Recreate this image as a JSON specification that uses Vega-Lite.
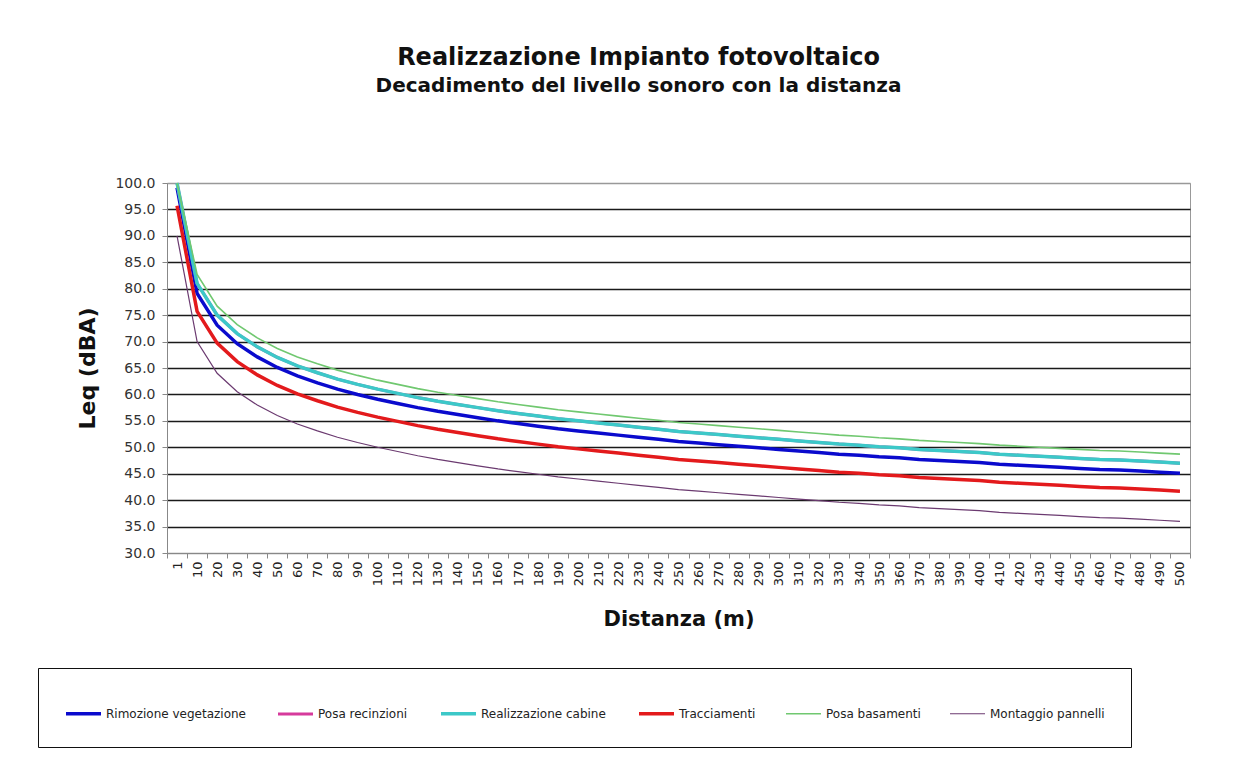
{
"$schema": "https://vega.github.io/schema/vega-lite/v6.json",
"width": 1023, "height": 370,
"autosize": {"type": "none"},
"padding": {"left": 167, "top": 183, "right": 66, "bottom": 227},
"background": "white",
"title": {"text": "Realizzazione Impianto fotovoltaico", "subtitle": "Decadimento del livello sonoro con la distanza", "anchor": "middle", "dx": -40, "offset": 80, "font": "DejaVu Sans", "fontSize": 24, "fontWeight": "bold", "color": "#111", "subtitleFont": "DejaVu Sans", "subtitleFontSize": 20, "subtitleFontWeight": "bold", "subtitleColor": "#111", "subtitlePadding": 6},
"config": {"view": {"stroke": "#999", "strokeWidth": 1}},
"datasets": {"rows": [
{"distanza":1,"fase":"Rimozione vegetazione","leq":99.1},{"distanza":10,"fase":"Rimozione vegetazione","leq":79.1},{"distanza":20,"fase":"Rimozione vegetazione","leq":73.1},{"distanza":30,"fase":"Rimozione vegetazione","leq":69.6},{"distanza":40,"fase":"Rimozione vegetazione","leq":67.1},{"distanza":50,"fase":"Rimozione vegetazione","leq":65.1},{"distanza":60,"fase":"Rimozione vegetazione","leq":63.5},{"distanza":70,"fase":"Rimozione vegetazione","leq":62.2},{"distanza":80,"fase":"Rimozione vegetazione","leq":61.0},{"distanza":90,"fase":"Rimozione vegetazione","leq":60.0},{"distanza":100,"fase":"Rimozione vegetazione","leq":59.1},{"distanza":110,"fase":"Rimozione vegetazione","leq":58.3},{"distanza":120,"fase":"Rimozione vegetazione","leq":57.5},{"distanza":130,"fase":"Rimozione vegetazione","leq":56.8},{"distanza":140,"fase":"Rimozione vegetazione","leq":56.2},{"distanza":150,"fase":"Rimozione vegetazione","leq":55.6},{"distanza":160,"fase":"Rimozione vegetazione","leq":55.0},{"distanza":170,"fase":"Rimozione vegetazione","leq":54.5},{"distanza":180,"fase":"Rimozione vegetazione","leq":54.0},{"distanza":190,"fase":"Rimozione vegetazione","leq":53.5},{"distanza":200,"fase":"Rimozione vegetazione","leq":53.1},{"distanza":210,"fase":"Rimozione vegetazione","leq":52.7},{"distanza":220,"fase":"Rimozione vegetazione","leq":52.3},{"distanza":230,"fase":"Rimozione vegetazione","leq":51.9},{"distanza":240,"fase":"Rimozione vegetazione","leq":51.5},{"distanza":250,"fase":"Rimozione vegetazione","leq":51.1},{"distanza":260,"fase":"Rimozione vegetazione","leq":50.8},{"distanza":270,"fase":"Rimozione vegetazione","leq":50.5},{"distanza":280,"fase":"Rimozione vegetazione","leq":50.2},{"distanza":290,"fase":"Rimozione vegetazione","leq":49.9},{"distanza":300,"fase":"Rimozione vegetazione","leq":49.6},{"distanza":310,"fase":"Rimozione vegetazione","leq":49.3},{"distanza":320,"fase":"Rimozione vegetazione","leq":49.0},{"distanza":330,"fase":"Rimozione vegetazione","leq":48.7},{"distanza":340,"fase":"Rimozione vegetazione","leq":48.5},{"distanza":350,"fase":"Rimozione vegetazione","leq":48.2},{"distanza":360,"fase":"Rimozione vegetazione","leq":48.0},{"distanza":370,"fase":"Rimozione vegetazione","leq":47.7},{"distanza":380,"fase":"Rimozione vegetazione","leq":47.5},{"distanza":390,"fase":"Rimozione vegetazione","leq":47.3},{"distanza":400,"fase":"Rimozione vegetazione","leq":47.1},{"distanza":410,"fase":"Rimozione vegetazione","leq":46.8},{"distanza":420,"fase":"Rimozione vegetazione","leq":46.6},{"distanza":430,"fase":"Rimozione vegetazione","leq":46.4},{"distanza":440,"fase":"Rimozione vegetazione","leq":46.2},{"distanza":450,"fase":"Rimozione vegetazione","leq":46.0},{"distanza":460,"fase":"Rimozione vegetazione","leq":45.8},{"distanza":470,"fase":"Rimozione vegetazione","leq":45.7},{"distanza":480,"fase":"Rimozione vegetazione","leq":45.5},{"distanza":490,"fase":"Rimozione vegetazione","leq":45.3},{"distanza":500,"fase":"Rimozione vegetazione","leq":45.1},
{"distanza":1,"fase":"Posa recinzioni","leq":100.0},{"distanza":10,"fase":"Posa recinzioni","leq":81.0},{"distanza":20,"fase":"Posa recinzioni","leq":75.0},{"distanza":30,"fase":"Posa recinzioni","leq":71.5},{"distanza":40,"fase":"Posa recinzioni","leq":69.0},{"distanza":50,"fase":"Posa recinzioni","leq":67.0},{"distanza":60,"fase":"Posa recinzioni","leq":65.4},{"distanza":70,"fase":"Posa recinzioni","leq":64.1},{"distanza":80,"fase":"Posa recinzioni","leq":62.9},{"distanza":90,"fase":"Posa recinzioni","leq":61.9},{"distanza":100,"fase":"Posa recinzioni","leq":61.0},{"distanza":110,"fase":"Posa recinzioni","leq":60.2},{"distanza":120,"fase":"Posa recinzioni","leq":59.4},{"distanza":130,"fase":"Posa recinzioni","leq":58.7},{"distanza":140,"fase":"Posa recinzioni","leq":58.1},{"distanza":150,"fase":"Posa recinzioni","leq":57.5},{"distanza":160,"fase":"Posa recinzioni","leq":56.9},{"distanza":170,"fase":"Posa recinzioni","leq":56.4},{"distanza":180,"fase":"Posa recinzioni","leq":55.9},{"distanza":190,"fase":"Posa recinzioni","leq":55.4},{"distanza":200,"fase":"Posa recinzioni","leq":55.0},{"distanza":210,"fase":"Posa recinzioni","leq":54.6},{"distanza":220,"fase":"Posa recinzioni","leq":54.2},{"distanza":230,"fase":"Posa recinzioni","leq":53.8},{"distanza":240,"fase":"Posa recinzioni","leq":53.4},{"distanza":250,"fase":"Posa recinzioni","leq":53.0},{"distanza":260,"fase":"Posa recinzioni","leq":52.7},{"distanza":270,"fase":"Posa recinzioni","leq":52.4},{"distanza":280,"fase":"Posa recinzioni","leq":52.1},{"distanza":290,"fase":"Posa recinzioni","leq":51.8},{"distanza":300,"fase":"Posa recinzioni","leq":51.5},{"distanza":310,"fase":"Posa recinzioni","leq":51.2},{"distanza":320,"fase":"Posa recinzioni","leq":50.9},{"distanza":330,"fase":"Posa recinzioni","leq":50.6},{"distanza":340,"fase":"Posa recinzioni","leq":50.4},{"distanza":350,"fase":"Posa recinzioni","leq":50.1},{"distanza":360,"fase":"Posa recinzioni","leq":49.9},{"distanza":370,"fase":"Posa recinzioni","leq":49.6},{"distanza":380,"fase":"Posa recinzioni","leq":49.4},{"distanza":390,"fase":"Posa recinzioni","leq":49.2},{"distanza":400,"fase":"Posa recinzioni","leq":49.0},{"distanza":410,"fase":"Posa recinzioni","leq":48.7},{"distanza":420,"fase":"Posa recinzioni","leq":48.5},{"distanza":430,"fase":"Posa recinzioni","leq":48.3},{"distanza":440,"fase":"Posa recinzioni","leq":48.1},{"distanza":450,"fase":"Posa recinzioni","leq":47.9},{"distanza":460,"fase":"Posa recinzioni","leq":47.7},{"distanza":470,"fase":"Posa recinzioni","leq":47.6},{"distanza":480,"fase":"Posa recinzioni","leq":47.4},{"distanza":490,"fase":"Posa recinzioni","leq":47.2},{"distanza":500,"fase":"Posa recinzioni","leq":47.0},
{"distanza":1,"fase":"Realizzazione cabine","leq":100.0},{"distanza":10,"fase":"Realizzazione cabine","leq":81.0},{"distanza":20,"fase":"Realizzazione cabine","leq":75.0},{"distanza":30,"fase":"Realizzazione cabine","leq":71.5},{"distanza":40,"fase":"Realizzazione cabine","leq":69.0},{"distanza":50,"fase":"Realizzazione cabine","leq":67.0},{"distanza":60,"fase":"Realizzazione cabine","leq":65.4},{"distanza":70,"fase":"Realizzazione cabine","leq":64.1},{"distanza":80,"fase":"Realizzazione cabine","leq":62.9},{"distanza":90,"fase":"Realizzazione cabine","leq":61.9},{"distanza":100,"fase":"Realizzazione cabine","leq":61.0},{"distanza":110,"fase":"Realizzazione cabine","leq":60.2},{"distanza":120,"fase":"Realizzazione cabine","leq":59.4},{"distanza":130,"fase":"Realizzazione cabine","leq":58.7},{"distanza":140,"fase":"Realizzazione cabine","leq":58.1},{"distanza":150,"fase":"Realizzazione cabine","leq":57.5},{"distanza":160,"fase":"Realizzazione cabine","leq":56.9},{"distanza":170,"fase":"Realizzazione cabine","leq":56.4},{"distanza":180,"fase":"Realizzazione cabine","leq":55.9},{"distanza":190,"fase":"Realizzazione cabine","leq":55.4},{"distanza":200,"fase":"Realizzazione cabine","leq":55.0},{"distanza":210,"fase":"Realizzazione cabine","leq":54.6},{"distanza":220,"fase":"Realizzazione cabine","leq":54.2},{"distanza":230,"fase":"Realizzazione cabine","leq":53.8},{"distanza":240,"fase":"Realizzazione cabine","leq":53.4},{"distanza":250,"fase":"Realizzazione cabine","leq":53.0},{"distanza":260,"fase":"Realizzazione cabine","leq":52.7},{"distanza":270,"fase":"Realizzazione cabine","leq":52.4},{"distanza":280,"fase":"Realizzazione cabine","leq":52.1},{"distanza":290,"fase":"Realizzazione cabine","leq":51.8},{"distanza":300,"fase":"Realizzazione cabine","leq":51.5},{"distanza":310,"fase":"Realizzazione cabine","leq":51.2},{"distanza":320,"fase":"Realizzazione cabine","leq":50.9},{"distanza":330,"fase":"Realizzazione cabine","leq":50.6},{"distanza":340,"fase":"Realizzazione cabine","leq":50.4},{"distanza":350,"fase":"Realizzazione cabine","leq":50.1},{"distanza":360,"fase":"Realizzazione cabine","leq":49.9},{"distanza":370,"fase":"Realizzazione cabine","leq":49.6},{"distanza":380,"fase":"Realizzazione cabine","leq":49.4},{"distanza":390,"fase":"Realizzazione cabine","leq":49.2},{"distanza":400,"fase":"Realizzazione cabine","leq":49.0},{"distanza":410,"fase":"Realizzazione cabine","leq":48.7},{"distanza":420,"fase":"Realizzazione cabine","leq":48.5},{"distanza":430,"fase":"Realizzazione cabine","leq":48.3},{"distanza":440,"fase":"Realizzazione cabine","leq":48.1},{"distanza":450,"fase":"Realizzazione cabine","leq":47.9},{"distanza":460,"fase":"Realizzazione cabine","leq":47.7},{"distanza":470,"fase":"Realizzazione cabine","leq":47.6},{"distanza":480,"fase":"Realizzazione cabine","leq":47.4},{"distanza":490,"fase":"Realizzazione cabine","leq":47.2},{"distanza":500,"fase":"Realizzazione cabine","leq":47.0},
{"distanza":1,"fase":"Tracciamenti","leq":95.7},{"distanza":10,"fase":"Tracciamenti","leq":75.7},{"distanza":20,"fase":"Tracciamenti","leq":69.7},{"distanza":30,"fase":"Tracciamenti","leq":66.2},{"distanza":40,"fase":"Tracciamenti","leq":63.7},{"distanza":50,"fase":"Tracciamenti","leq":61.7},{"distanza":60,"fase":"Tracciamenti","leq":60.1},{"distanza":70,"fase":"Tracciamenti","leq":58.8},{"distanza":80,"fase":"Tracciamenti","leq":57.6},{"distanza":90,"fase":"Tracciamenti","leq":56.6},{"distanza":100,"fase":"Tracciamenti","leq":55.7},{"distanza":110,"fase":"Tracciamenti","leq":54.9},{"distanza":120,"fase":"Tracciamenti","leq":54.1},{"distanza":130,"fase":"Tracciamenti","leq":53.4},{"distanza":140,"fase":"Tracciamenti","leq":52.8},{"distanza":150,"fase":"Tracciamenti","leq":52.2},{"distanza":160,"fase":"Tracciamenti","leq":51.6},{"distanza":170,"fase":"Tracciamenti","leq":51.1},{"distanza":180,"fase":"Tracciamenti","leq":50.6},{"distanza":190,"fase":"Tracciamenti","leq":50.1},{"distanza":200,"fase":"Tracciamenti","leq":49.7},{"distanza":210,"fase":"Tracciamenti","leq":49.3},{"distanza":220,"fase":"Tracciamenti","leq":48.9},{"distanza":230,"fase":"Tracciamenti","leq":48.5},{"distanza":240,"fase":"Tracciamenti","leq":48.1},{"distanza":250,"fase":"Tracciamenti","leq":47.7},{"distanza":260,"fase":"Tracciamenti","leq":47.4},{"distanza":270,"fase":"Tracciamenti","leq":47.1},{"distanza":280,"fase":"Tracciamenti","leq":46.8},{"distanza":290,"fase":"Tracciamenti","leq":46.5},{"distanza":300,"fase":"Tracciamenti","leq":46.2},{"distanza":310,"fase":"Tracciamenti","leq":45.9},{"distanza":320,"fase":"Tracciamenti","leq":45.6},{"distanza":330,"fase":"Tracciamenti","leq":45.3},{"distanza":340,"fase":"Tracciamenti","leq":45.1},{"distanza":350,"fase":"Tracciamenti","leq":44.8},{"distanza":360,"fase":"Tracciamenti","leq":44.6},{"distanza":370,"fase":"Tracciamenti","leq":44.3},{"distanza":380,"fase":"Tracciamenti","leq":44.1},{"distanza":390,"fase":"Tracciamenti","leq":43.9},{"distanza":400,"fase":"Tracciamenti","leq":43.7},{"distanza":410,"fase":"Tracciamenti","leq":43.4},{"distanza":420,"fase":"Tracciamenti","leq":43.2},{"distanza":430,"fase":"Tracciamenti","leq":43.0},{"distanza":440,"fase":"Tracciamenti","leq":42.8},{"distanza":450,"fase":"Tracciamenti","leq":42.6},{"distanza":460,"fase":"Tracciamenti","leq":42.4},{"distanza":470,"fase":"Tracciamenti","leq":42.3},{"distanza":480,"fase":"Tracciamenti","leq":42.1},{"distanza":490,"fase":"Tracciamenti","leq":41.9},{"distanza":500,"fase":"Tracciamenti","leq":41.7},
{"distanza":1,"fase":"Posa basamenti","leq":100.0},{"distanza":10,"fase":"Posa basamenti","leq":82.7},{"distanza":20,"fase":"Posa basamenti","leq":76.7},{"distanza":30,"fase":"Posa basamenti","leq":73.2},{"distanza":40,"fase":"Posa basamenti","leq":70.7},{"distanza":50,"fase":"Posa basamenti","leq":68.7},{"distanza":60,"fase":"Posa basamenti","leq":67.1},{"distanza":70,"fase":"Posa basamenti","leq":65.8},{"distanza":80,"fase":"Posa basamenti","leq":64.6},{"distanza":90,"fase":"Posa basamenti","leq":63.6},{"distanza":100,"fase":"Posa basamenti","leq":62.7},{"distanza":110,"fase":"Posa basamenti","leq":61.9},{"distanza":120,"fase":"Posa basamenti","leq":61.1},{"distanza":130,"fase":"Posa basamenti","leq":60.4},{"distanza":140,"fase":"Posa basamenti","leq":59.8},{"distanza":150,"fase":"Posa basamenti","leq":59.2},{"distanza":160,"fase":"Posa basamenti","leq":58.6},{"distanza":170,"fase":"Posa basamenti","leq":58.1},{"distanza":180,"fase":"Posa basamenti","leq":57.6},{"distanza":190,"fase":"Posa basamenti","leq":57.1},{"distanza":200,"fase":"Posa basamenti","leq":56.7},{"distanza":210,"fase":"Posa basamenti","leq":56.3},{"distanza":220,"fase":"Posa basamenti","leq":55.9},{"distanza":230,"fase":"Posa basamenti","leq":55.5},{"distanza":240,"fase":"Posa basamenti","leq":55.1},{"distanza":250,"fase":"Posa basamenti","leq":54.7},{"distanza":260,"fase":"Posa basamenti","leq":54.4},{"distanza":270,"fase":"Posa basamenti","leq":54.1},{"distanza":280,"fase":"Posa basamenti","leq":53.8},{"distanza":290,"fase":"Posa basamenti","leq":53.5},{"distanza":300,"fase":"Posa basamenti","leq":53.2},{"distanza":310,"fase":"Posa basamenti","leq":52.9},{"distanza":320,"fase":"Posa basamenti","leq":52.6},{"distanza":330,"fase":"Posa basamenti","leq":52.3},{"distanza":340,"fase":"Posa basamenti","leq":52.1},{"distanza":350,"fase":"Posa basamenti","leq":51.8},{"distanza":360,"fase":"Posa basamenti","leq":51.6},{"distanza":370,"fase":"Posa basamenti","leq":51.3},{"distanza":380,"fase":"Posa basamenti","leq":51.1},{"distanza":390,"fase":"Posa basamenti","leq":50.9},{"distanza":400,"fase":"Posa basamenti","leq":50.7},{"distanza":410,"fase":"Posa basamenti","leq":50.4},{"distanza":420,"fase":"Posa basamenti","leq":50.2},{"distanza":430,"fase":"Posa basamenti","leq":50.0},{"distanza":440,"fase":"Posa basamenti","leq":49.8},{"distanza":450,"fase":"Posa basamenti","leq":49.6},{"distanza":460,"fase":"Posa basamenti","leq":49.4},{"distanza":470,"fase":"Posa basamenti","leq":49.3},{"distanza":480,"fase":"Posa basamenti","leq":49.1},{"distanza":490,"fase":"Posa basamenti","leq":48.9},{"distanza":500,"fase":"Posa basamenti","leq":48.7},
{"distanza":1,"fase":"Montaggio pannelli","leq":90.0},{"distanza":10,"fase":"Montaggio pannelli","leq":70.0},{"distanza":20,"fase":"Montaggio pannelli","leq":64.0},{"distanza":30,"fase":"Montaggio pannelli","leq":60.5},{"distanza":40,"fase":"Montaggio pannelli","leq":58.0},{"distanza":50,"fase":"Montaggio pannelli","leq":56.0},{"distanza":60,"fase":"Montaggio pannelli","leq":54.4},{"distanza":70,"fase":"Montaggio pannelli","leq":53.1},{"distanza":80,"fase":"Montaggio pannelli","leq":51.9},{"distanza":90,"fase":"Montaggio pannelli","leq":50.9},{"distanza":100,"fase":"Montaggio pannelli","leq":50.0},{"distanza":110,"fase":"Montaggio pannelli","leq":49.2},{"distanza":120,"fase":"Montaggio pannelli","leq":48.4},{"distanza":130,"fase":"Montaggio pannelli","leq":47.7},{"distanza":140,"fase":"Montaggio pannelli","leq":47.1},{"distanza":150,"fase":"Montaggio pannelli","leq":46.5},{"distanza":160,"fase":"Montaggio pannelli","leq":45.9},{"distanza":170,"fase":"Montaggio pannelli","leq":45.4},{"distanza":180,"fase":"Montaggio pannelli","leq":44.9},{"distanza":190,"fase":"Montaggio pannelli","leq":44.4},{"distanza":200,"fase":"Montaggio pannelli","leq":44.0},{"distanza":210,"fase":"Montaggio pannelli","leq":43.6},{"distanza":220,"fase":"Montaggio pannelli","leq":43.2},{"distanza":230,"fase":"Montaggio pannelli","leq":42.8},{"distanza":240,"fase":"Montaggio pannelli","leq":42.4},{"distanza":250,"fase":"Montaggio pannelli","leq":42.0},{"distanza":260,"fase":"Montaggio pannelli","leq":41.7},{"distanza":270,"fase":"Montaggio pannelli","leq":41.4},{"distanza":280,"fase":"Montaggio pannelli","leq":41.1},{"distanza":290,"fase":"Montaggio pannelli","leq":40.8},{"distanza":300,"fase":"Montaggio pannelli","leq":40.5},{"distanza":310,"fase":"Montaggio pannelli","leq":40.2},{"distanza":320,"fase":"Montaggio pannelli","leq":39.9},{"distanza":330,"fase":"Montaggio pannelli","leq":39.6},{"distanza":340,"fase":"Montaggio pannelli","leq":39.4},{"distanza":350,"fase":"Montaggio pannelli","leq":39.1},{"distanza":360,"fase":"Montaggio pannelli","leq":38.9},{"distanza":370,"fase":"Montaggio pannelli","leq":38.6},{"distanza":380,"fase":"Montaggio pannelli","leq":38.4},{"distanza":390,"fase":"Montaggio pannelli","leq":38.2},{"distanza":400,"fase":"Montaggio pannelli","leq":38.0},{"distanza":410,"fase":"Montaggio pannelli","leq":37.7},{"distanza":420,"fase":"Montaggio pannelli","leq":37.5},{"distanza":430,"fase":"Montaggio pannelli","leq":37.3},{"distanza":440,"fase":"Montaggio pannelli","leq":37.1},{"distanza":450,"fase":"Montaggio pannelli","leq":36.9},{"distanza":460,"fase":"Montaggio pannelli","leq":36.7},{"distanza":470,"fase":"Montaggio pannelli","leq":36.6},{"distanza":480,"fase":"Montaggio pannelli","leq":36.4},{"distanza":490,"fase":"Montaggio pannelli","leq":36.2},{"distanza":500,"fase":"Montaggio pannelli","leq":36.0}
]},
"data": {"name": "rows"},
"mark": {"type": "line", "interpolate": "linear"},
"encoding": {
  "x": {"field": "distanza", "type": "ordinal", "bandPosition": 0.5,
    "scale": {"type": "band", "paddingInner": 0, "paddingOuter": 0},
    "axis": {"title": "Distanza (m)", "labelAngle": 270, "tickBand": "extent", "labelFont": "DejaVu Sans", "labelFontSize": 13, "labelColor": "#222", "labelPadding": 3, "tickSize": 5, "tickColor": "#888", "domainColor": "#888", "titleFont": "DejaVu Sans", "titleFontSize": 21, "titleFontWeight": "bold", "titleColor": "#111", "titlePadding": 23, "grid": false, "labelOverlap": false}},
  "y": {"field": "leq", "type": "quantitative",
    "scale": {"domain": [30, 100], "nice": false, "zero": false},
    "axis": {"title": "Leq (dBA)", "values": [30,35,40,45,50,55,60,65,70,75,80,85,90,95,100], "format": ".1f", "labelFont": "DejaVu Sans", "labelFontSize": 14, "labelColor": "#333", "tickSize": 5, "tickColor": "#888", "labelPadding": 7, "domainColor": "#888", "grid": true, "gridColor": {"condition": {"test": "datum.value == 30 || datum.value == 100", "value": "#999"}, "value": "#1a1a1a"}, "gridWidth": 1.4, "titleFont": "DejaVu Sans", "titleFontSize": 22, "titleFontWeight": "bold", "titleColor": "#111", "titlePadding": 15}},
  "color": {"field": "fase", "type": "nominal",
    "scale": {"domain": ["Rimozione vegetazione", "Posa recinzioni", "Realizzazione cabine", "Tracciamenti", "Posa basamenti", "Montaggio pannelli"], "range": ["#0A0ACD", "#D63A9C", "#3CC8C8", "#E31A1C", "#70C870", "#6B3A70"]},
    "legend": {"orient": "none", "legendX": -129, "legendY": 485, "direction": "horizontal", "columns": 6, "title": null, "symbolType": "stroke", "symbolSize": 1225, "labelFont": "DejaVu Sans", "labelFontSize": 12, "labelColor": "#222", "labelOffset": 3, "columnPadding": 26, "padding": 26, "strokeColor": "#111"}},
  "strokeWidth": {"field": "fase", "type": "nominal",
    "scale": {"type": "ordinal", "domain": ["Rimozione vegetazione", "Posa recinzioni", "Realizzazione cabine", "Tracciamenti", "Posa basamenti", "Montaggio pannelli"], "range": [3.5, 3, 3.5, 3.5, 1.6, 1.2]}}
}
}
